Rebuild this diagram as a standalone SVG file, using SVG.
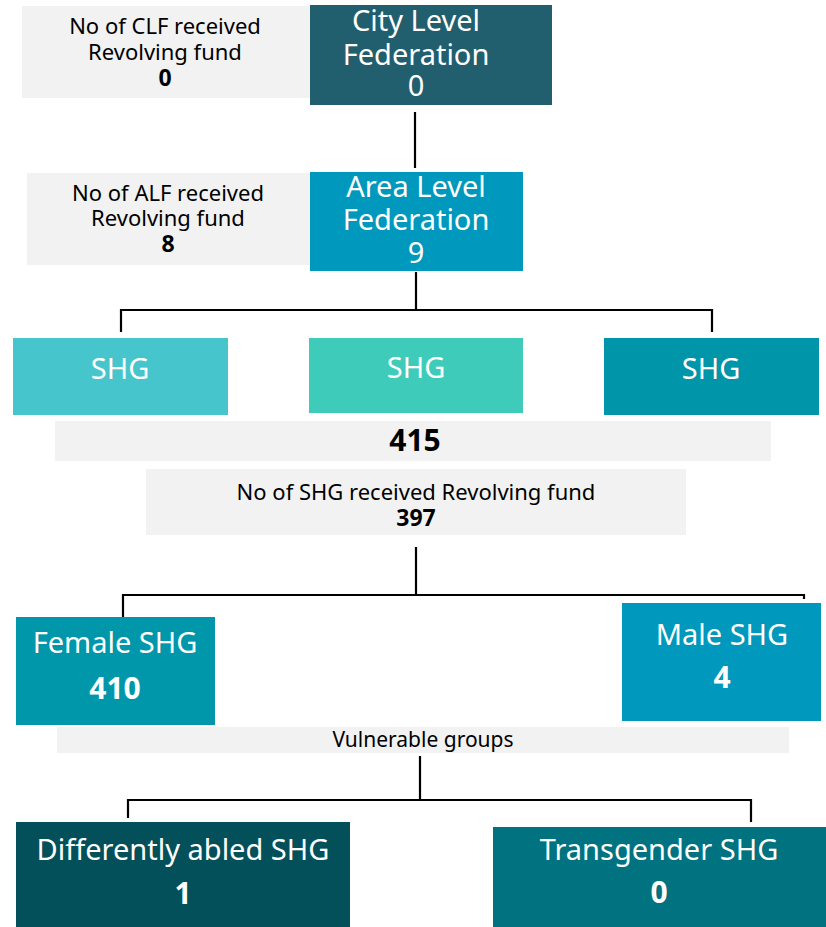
<svg xmlns="http://www.w3.org/2000/svg" width="826" height="927" viewBox="0 0 826 927">
<style>
.lbl{fill:#f2f2f2}
.t{font-family:"Noto Sans","Open Sans","Liberation Sans",sans-serif;text-anchor:middle}
.w{fill:#ffffff}
.k{fill:#000000}
.b{font-weight:bold}
.s{font-size:22px}
.n{font-size:23px;font-weight:bold}
.L{font-size:29px}
.conn{fill:none;stroke:#000;stroke-width:2.2}
</style>
<rect width="826" height="927" fill="#ffffff"/>
<g id="connectors">
<path class="conn" d="M415 112V168"/>
<path class="conn" d="M416 272V310M121 332V310H712V332"/>
<path class="conn" d="M416 547V595M123 627V595H804V599"/>
<path class="conn" d="M420 756V800M128 818V800H751V822"/>
</g>
<g id="clf-label">
<rect class="lbl" x="22" y="6" width="288" height="92"/>
<text class="t k s" x="165" y="34">No of CLF received</text>
<text class="t k s" x="165" y="60">Revolving fund</text>
<text class="t k n" x="165" y="86">0</text>
</g>
<g id="clf">
<rect x="310" y="5" width="242" height="100" fill="#215e6e"/>
<text class="t w L" x="416" y="31">City Level</text>
<text class="t w L" x="416" y="65">Federation</text>
<text class="t w L" x="416" y="96">0</text>
</g>
<g id="alf-label">
<rect class="lbl" x="27" y="173" width="283" height="92"/>
<text class="t k s" x="168" y="201">No of ALF received</text>
<text class="t k s" x="168" y="226">Revolving fund</text>
<text class="t k n" x="168" y="252">8</text>
</g>
<g id="alf">
<rect x="310" y="172" width="213" height="99" fill="#0098bd"/>
<text class="t w L" x="416" y="197">Area Level</text>
<text class="t w L" x="416" y="230">Federation</text>
<text class="t w L" x="416" y="263">9</text>
</g>
<g id="shg1">
<rect x="13" y="338" width="215" height="77" fill="#47c5cc"/>
<text class="t w L" x="120" y="379">SHG</text>
</g>
<g id="shg2">
<rect x="309" y="338" width="214" height="75" fill="#3ecbb9"/>
<text class="t w L" x="416" y="378">SHG</text>
</g>
<g id="shg3">
<rect x="604" y="338" width="215" height="77" fill="#0095a8"/>
<text class="t w L" x="711" y="379">SHG</text>
</g>
<g id="total">
<rect class="lbl" x="55" y="421" width="716" height="40"/>
<text class="t k b" x="415" y="451" font-size="30">415</text>
</g>
<g id="shg-label">
<rect class="lbl" x="146" y="469" width="540" height="66"/>
<text class="t k s" x="416" y="500">No of SHG received Revolving fund</text>
<text class="t k n" x="416" y="526">397</text>
</g>
<g id="female">
<rect x="16" y="617" width="199" height="108" fill="#0097ab"/>
<text class="t w L" x="115" y="653">Female SHG</text>
<text class="t w b" x="115" y="699" font-size="30">410</text>
</g>
<g id="male">
<rect x="622" y="603" width="199" height="118" fill="#0098bc"/>
<text class="t w L" x="722" y="645">Male SHG</text>
<text class="t w b" x="722" y="688" font-size="30">4</text>
</g>
<g id="vulnerable">
<rect class="lbl" x="57" y="727" width="732" height="26"/>
<text class="t k" x="423" y="747" font-size="21">Vulnerable groups</text>
</g>
<g id="diff">
<rect x="16" y="822" width="334" height="105" fill="#034f5a"/>
<text class="t w L" x="183" y="860">Differently abled SHG</text>
<text class="t w b" x="183" y="904" font-size="30">1</text>
</g>
<g id="trans">
<rect x="493" y="827" width="333" height="100" fill="#007280"/>
<text class="t w L" x="659" y="860">Transgender SHG</text>
<text class="t w b" x="659" y="903" font-size="30">0</text>
</g>
</svg>
